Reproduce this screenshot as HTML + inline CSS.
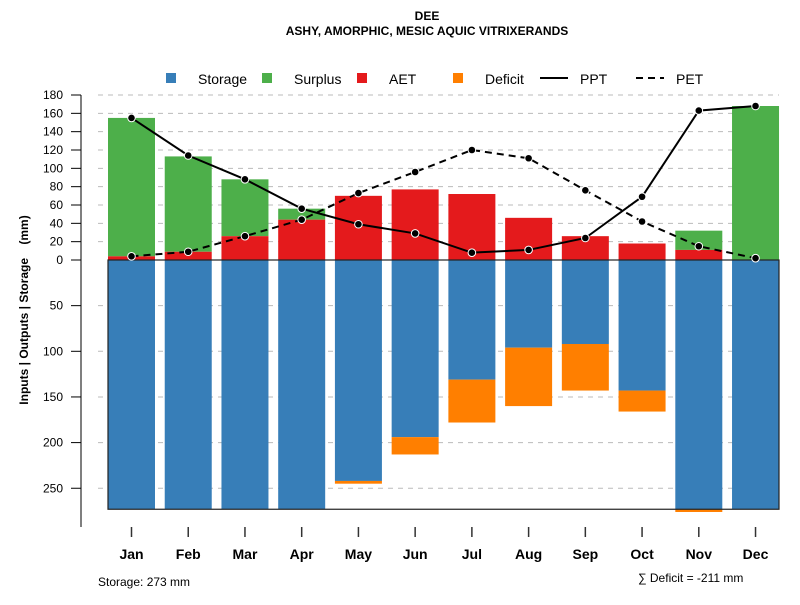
<!DOCTYPE html>
<html><head><meta charset="utf-8"><style>
body{margin:0;background:#fff;}
svg{font-family:"Liberation Sans",sans-serif;}
</style></head><body>
<svg id="chart" width="800" height="600" xmlns="http://www.w3.org/2000/svg">
<text x="427" y="20" text-anchor="middle" font-size="12" font-weight="bold">DEE</text>
<text x="427" y="35" text-anchor="middle" font-size="12" font-weight="bold">ASHY, AMORPHIC, MESIC AQUIC VITRIXERANDS</text>
<g id="legend" font-size="14">
<rect x="166" y="73" width="10" height="10" fill="#377eb8"/>
<text x="198" y="84">Storage</text>
<rect x="262" y="73" width="10" height="10" fill="#4daf4a"/>
<text x="294" y="84">Surplus</text>
<rect x="357" y="73" width="10" height="10" fill="#e41a1c"/>
<text x="389" y="84">AET</text>
<rect x="453" y="73" width="10" height="10" fill="#ff7f00"/>
<text x="485" y="84">Deficit</text>
<line x1="540" y1="78" x2="568" y2="78" stroke="#000" stroke-width="2"/>
<text x="580" y="84">PPT</text>
<line x1="636" y1="78" x2="664" y2="78" stroke="#000" stroke-width="2" stroke-dasharray="7,5"/>
<text x="676" y="84">PET</text>
</g>
<text transform="translate(28,310) rotate(-90)" text-anchor="middle" font-size="12" font-weight="bold" style="white-space:pre">Inputs | Outputs | Storage    (mm)</text>
<g id="grid"></g><g id="bars"></g><g id="lines"></g><g id="axes"></g>
<text x="98" y="586" font-size="12">Storage: 273 mm</text>
<text x="638" y="582" font-size="12">∑ Deficit = -211 mm</text>
</svg>
<script>
const months=["Jan","Feb","Mar","Apr","May","Jun","Jul","Aug","Sep","Oct","Nov","Dec"];
const ppt=[155,114,88,56,39,29,8,11,24,69,163,168];
const pet=[4,9,26,44,73,96,120,111,76,42,15,2];
const aet=[4,9,26,44,70,77,72,46,26,18,11,0];
const surplus=[151,104,62,12,0,0,0,0,0,0,21,168];
const storage=[273,273,273,273,242,194,131,96,92,143,273,273];
const deficit=[0,0,0,0,3,19,47,64,51,23,3,0];
const upTicks=[0,20,40,60,80,100,120,140,160,180];
const downTicks=[50,100,150,200,250];
const NS="http://www.w3.org/2000/svg";
const y0=260, kUp=165/180, kDn=0.913;
function yU(v){return y0-v*kUp;}
function yD(v){return y0+v*kDn;}
function xC(i){return 131.5+i*56.73;}
const bw=47;
function mk(p,t,a){const e=document.createElementNS(NS,t);for(const k in a)e.setAttribute(k,a[k]);document.getElementById(p).appendChild(e);return e;}
upTicks.concat(downTicks.map(v=>-v)).forEach(v=>{
 if(v===0)return;
 const y=v>0?yU(v):yD(-v);
 const g=mk('grid','line',{x1:98,x2:779,y1:y,y2:y,stroke:'#bbb','stroke-dasharray':'5,5'});
 
 
});
months.forEach((m,i)=>{
 const x=xC(i)-bw/2;
 let r=mk('bars','rect',{x:x,y:yD(0),width:bw,height:storage[i]*kDn,fill:'#377eb8'});
 
 
 if(deficit[i]>0){
  r=mk('bars','rect',{x:x,y:yD(storage[i]),width:bw,height:deficit[i]*kDn,fill:'#ff7f00'});
  
  
 }
 if(surplus[i]>0){
  r=mk('bars','rect',{x:x,y:yU(aet[i]+surplus[i]),width:bw,height:surplus[i]*kUp,fill:'#4daf4a'});
  
  
 }
 if(aet[i]>0){
  r=mk('bars','rect',{x:x,y:yU(aet[i]),width:bw,height:aet[i]*kUp,fill:'#e41a1c'});
  
  
 }
});
let ob=mk('bars','rect',{x:108,y:y0,width:671,height:273*kDn,fill:'none',stroke:'#222','stroke-width':1.2});


[[ppt,'ppt',''],[pet,'pet','7,5']].forEach(([arr,n,d])=>{
 const pl=mk('lines','polyline',{points:arr.map((v,i)=>xC(i)+','+yU(v)).join(' '),fill:'none',stroke:'#000','stroke-width':2,'stroke-dasharray':d});
 
 
 arr.forEach((v,i)=>{
  const c=mk('lines','circle',{cx:xC(i),cy:yU(v),r:3.8,fill:'#000',stroke:'#fff','stroke-width':1});
  
  
 });
});
let a=mk('axes','line',{x1:81,x2:81,y1:95,y2:527,stroke:'#555','stroke-width':1.5});


upTicks.forEach(v=>{
 const t=mk('axes','line',{x1:71,x2:81,y1:yU(v),y2:yU(v),stroke:'#000'});
 
 
 const l=mk('axes','text',{x:63,y:yU(v)+4,'text-anchor':'end','font-size':12});
 l.textContent=v;
 
 
});
downTicks.forEach(v=>{
 const t=mk('axes','line',{x1:71,x2:81,y1:yD(v),y2:yD(v),stroke:'#000'});
 
 
 const l=mk('axes','text',{x:63,y:yD(v)+4,'text-anchor':'end','font-size':12});
 l.textContent=v;
 
 
});
months.forEach((m,i)=>{
 const t=mk('axes','line',{x1:xC(i),x2:xC(i),y1:527,y2:537,stroke:'#333','stroke-width':1.5});
 
 
 const l=mk('axes','text',{x:xC(i),y:559,'text-anchor':'middle','font-size':14,'font-weight':'bold'});
 l.textContent=m;
 
 
});
</script>
</body></html>
